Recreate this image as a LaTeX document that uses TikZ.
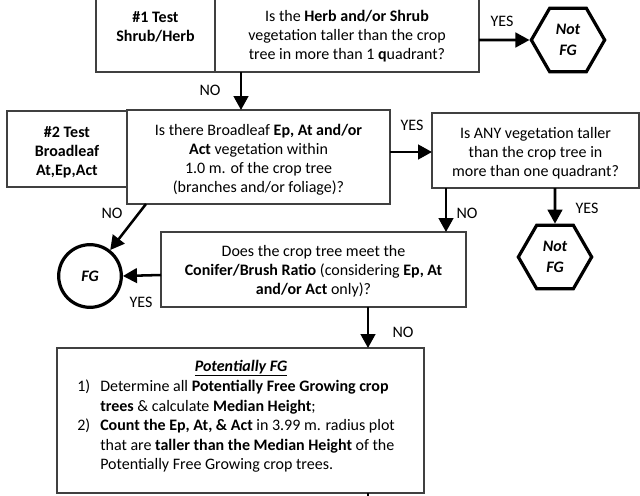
\documentclass[tikz,border=0pt]{standalone}
\usepackage{fontspec}
\setmainfont{Carlito}
\usetikzlibrary{arrows.meta,shapes.geometric}
\tikzset{
  box/.style={draw=black!75, line width=0.8pt, inner sep=0pt},
  txt/.style={align=center, inner sep=0pt, font=\fontsize{12}{14.2}\selectfont},
  lbl/.style={inner sep=0pt, font=\fontsize{12}{13}\selectfont},
  flow/.style={line width=1.9pt, -{Triangle[length=10.5pt,width=11pt]}},
  hexa/.style={draw, line width=2.4pt, regular polygon, regular polygon sides=6,
    minimum size=55pt, inner sep=0pt, align=center,
    font=\fontsize{12}{15.5}\selectfont\bfseries\itshape},
  endc/.style={draw, line width=2.4pt, circle, minimum size=47pt, inner sep=0pt,
    font=\fontsize{12}{13}\selectfont\bfseries\itshape}
}
\begin{document}
\begin{tikzpicture}[x=0.75pt, y=-0.75pt]
\useasboundingbox (0,0) rectangle (640,496);

% Test 1
\node[box, minimum width=89.25pt, minimum height=67.5pt] (b1l) at (155.5,27) {};
\node[box, minimum width=198pt, minimum height=57.75pt] (b1r) at (347,33.5) {};
\node[txt] (t1l) at (155.5,27) {\textbf{\#1 Test}\\\textbf{Shrub/Herb}};
\node[txt] (t1r) at (347,36.5) {Is the \textbf{Herb and/or Shrub}\\vegetation taller than the crop\\tree in more than 1 \textbf{q}uadrant?};
\node[hexa] (h1) at (568,40) {Not\\FG};

% Test 2
\node[box, minimum width=90pt, minimum height=57pt] (b2l) at (67,149) {};
\node[box, minimum width=197.25pt, minimum height=70.5pt] (b2r) at (258.5,157) {};
\node[txt] (t2l) at (67,152) {\textbf{\#2 Test}\\\textbf{Broadleaf}\\\textbf{At,Ep,Act}};
\node[txt] (t2r) at (258.5,160) {Is there Broadleaf \textbf{Ep, At and/or}\\\textbf{Act} vegetation within\\1.0 m. of the crop tree\\(branches and/or foliage)?};

% Any vegetation taller
\node[box, minimum width=155.25pt, minimum height=56.25pt] (b3) at (535.5,150.5) {};
\node[txt] (t3) at (535.5,153) {Is ANY vegetation taller\\than the crop tree in\\more than one quadrant?};
\node[hexa] (h2) at (555,257) {Not\\FG};

% Conifer/Brush ratio
\node[box, minimum width=228.75pt, minimum height=56.25pt] (b4) at (313.5,269.5) {};
\node[txt] (t4) at (313.5,271) {Does the crop tree meet the\\\textbf{Conifer/Brush Ratio} (considering \textbf{Ep, At}\\\textbf{and/or Act} only)?};
\node[endc] (fg) at (90,276) {FG};

% Potentially free growing
\node[box, minimum width=275.25pt, minimum height=108.75pt] (b5) at (240.5,420.5) {};
\node[txt] (t5h) at (241,368) {\textbf{\textit{\underline{Potentially FG}}}};
\node[inner sep=0pt, anchor=west, font=\fontsize{12}{14.6}\selectfont] (t5) at (77,427) {%
\begin{tabular}{@{}p{17.25pt}@{}l@{}}
1) & Determine all \textbf{Potentially Free Growing crop}\\
   & \textbf{trees} \& calculate \textbf{Median Height};\\
2) & \textbf{Count the Ep, At, \& Act} in 3.99 m. radius plot\\
   & that are \textbf{taller than the Median Height} of the\\
   & Potentially Free Growing crop trees.
\end{tabular}};

% connectors
\coordinate (c1a) at (479,40);
\coordinate (c1b) at (241,72);
\coordinate (c1c) at (241,110);
\coordinate (c2a) at (390,152);
\coordinate (c2b) at (432,152);
\coordinate (c2c) at (146,204);
\coordinate (c3a) at (446,188);
\coordinate (c3b) at (446,232);
\coordinate (c3c) at (555,188);
\coordinate (c4a) at (161,275);
\coordinate (c4b) at (368,307);
\coordinate (c4c) at (368,348);
\coordinate (c5a) at (368,493);
\coordinate (c5b) at (368,500);

\draw[flow] (c1a) -- (h1.west);
\draw[flow] (c1b) -- (c1c);
\draw[flow] (c2a) -- (c2b);
\draw[flow] (c2c) -- (fg);
\draw[flow] (c3a) -- (c3b);
\draw[flow] (c3c) -- (h2.north);
\draw[flow] (c4a) -- (fg.east);
\draw[flow] (c4b) -- (c4c);
\draw[line width=1.9pt] (c5a) -- (c5b);

% branch labels
\node[lbl] (y1) at (502,21) {YES};
\node[lbl] (n1) at (210,90) {NO};
\node[lbl] (y2) at (412,125) {YES};
\node[lbl] (n2) at (112,213) {NO};
\node[lbl] (n3) at (467,213) {NO};
\node[lbl] (y3) at (587,208) {YES};
\node[lbl] (y4) at (141,302) {YES};
\node[lbl] (n4) at (403,332) {NO};
\end{tikzpicture}
\end{document}
